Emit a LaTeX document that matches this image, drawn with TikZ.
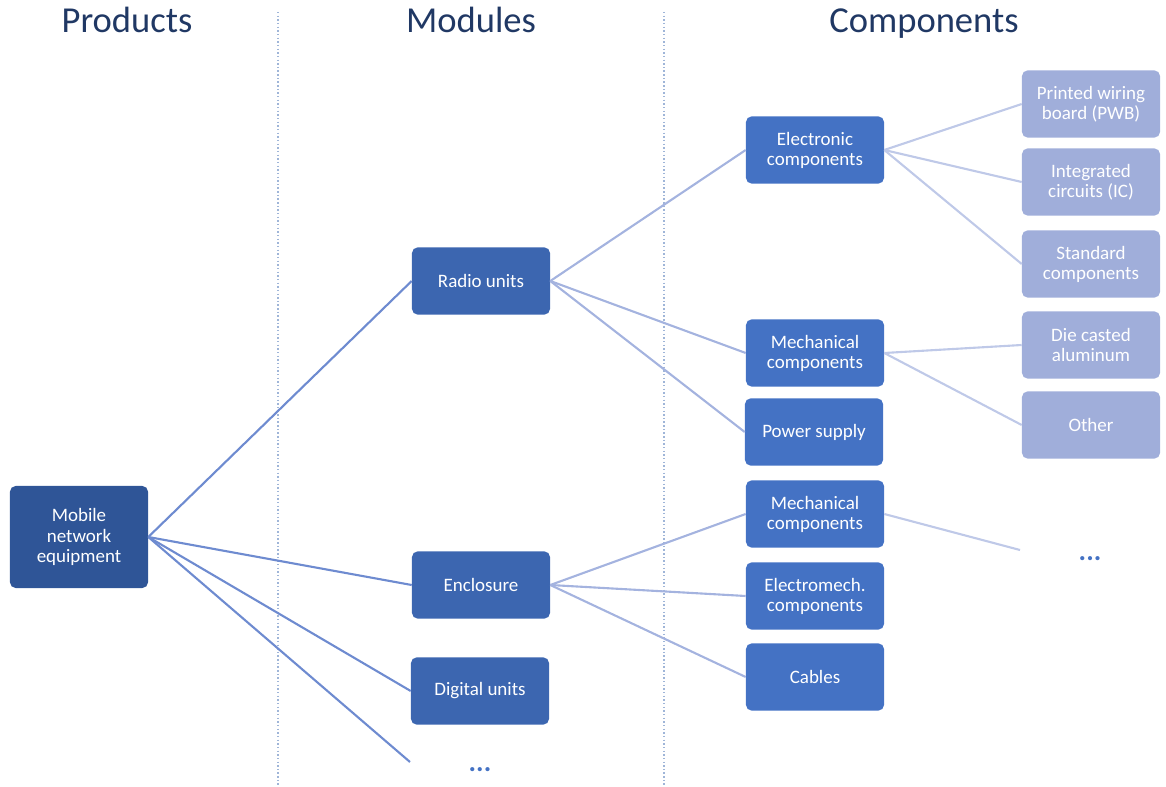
\documentclass[tikz,border=0pt]{standalone}
\usepackage{fontspec}
\setmainfont{Carlito}
\usetikzlibrary{positioning,calc}

\definecolor{headblue}{HTML}{203864}
\definecolor{prodblue}{HTML}{2F5597}
\definecolor{modblue}{HTML}{3C66B0}
\definecolor{compblue}{HTML}{4472C4}
\definecolor{partblue}{HTML}{A0AEDA}
\definecolor{linemid}{HTML}{6E8BD0}
\definecolor{linelight}{HTML}{A4B3DF}
\definecolor{linefaint}{HTML}{BFC9E8}
\definecolor{sepblue}{HTML}{9FB5D8}

\begin{document}
\begin{tikzpicture}[x=0.025cm, y=-0.025cm]
    \tikzstyle{box} = [draw=none, rounded corners=4pt, text=white, align=center,
        minimum width=3.45cm, minimum height=1.68cm, font=\fontsize{13.5}{14.3}\selectfont]
    \tikzstyle{prodbox} = [box, fill=prodblue, minimum height=2.55cm]
    \tikzstyle{modbox} = [box, fill=modblue]
    \tikzstyle{compbox} = [box, fill=compblue]
    \tikzstyle{partbox} = [box, fill=partblue]
    \tikzstyle{header} = [text=headblue, anchor=base, font=\fontsize{26}{30}\selectfont]
    \tikzstyle{more} = [text=compblue, font=\fontsize{20}{22}\selectfont\bfseries]

    \useasboundingbox (0,0) rectangle (1166,787);

    % Column headers
    \node[header] (hprod) at (127,33) {Products};
    \node[header] (hmod) at (471,33) {Modules};
    \node[header] (hcomp) at (924,33) {Components};

    % Separators
    \draw[sepblue, line width=1pt, dash pattern=on 1pt off 1.6pt] (278,12) -- (278,787);
    \draw[sepblue, line width=1pt, dash pattern=on 1pt off 1.6pt] (664,12) -- (664,787);

    % Product
    \node[prodbox] (mobile) at (79,537) {Mobile\\network\\equipment};

    % Modules
    \node[modbox] (radio) at (481,281) {Radio units};
    \node[modbox] (encl) at (481,585) {Enclosure};
    \node[modbox] (digital) at (480,691) {Digital units};
    \node[more] (moremod) at (480,770) {...};
    \coordinate (modend) at (410,762);

    % Components
    \node[compbox] (elec) at (815,150) {Electronic\\components};
    \node[compbox] (mecha) at (815,353) {Mechanical\\components};
    \node[compbox] (power) at (814,432) {Power supply};
    \node[compbox] (mechb) at (815,514) {Mechanical\\components};
    \node[compbox] (emech) at (815,596) {Electromech.\\components};
    \node[compbox] (cables) at (815,677) {Cables};

    % Parts
    \node[partbox] (pwb) at (1091,104) {Printed wiring\\board (PWB)};
    \node[partbox] (ic) at (1091,182) {Integrated\\circuits (IC)};
    \node[partbox] (std) at (1091,264) {Standard\\components};
    \node[partbox] (die) at (1091,345) {Die casted\\aluminum};
    \node[partbox] (other) at (1091,425) {Other};
    \node[more] (morepart) at (1090,559) {...};
    \coordinate (partend) at (1020,550);

    % Links
    \draw[linemid, line width=1.5pt] (mobile.east) -- (radio.west);
    \draw[linemid, line width=1.5pt] (mobile.east) -- (encl.west);
    \draw[linemid, line width=1.5pt] (mobile.east) -- (digital.west);
    \draw[linemid, line width=1.5pt] (mobile.east) -- (modend);

    \draw[linelight, line width=1.5pt] (radio.east) -- (elec.west);
    \draw[linelight, line width=1.5pt] (radio.east) -- (mecha.west);
    \draw[linelight, line width=1.5pt] (radio.east) -- (power.west);
    \draw[linelight, line width=1.5pt] (encl.east) -- (mechb.west);
    \draw[linelight, line width=1.5pt] (encl.east) -- (emech.west);
    \draw[linelight, line width=1.5pt] (encl.east) -- (cables.west);

    \draw[linefaint, line width=1.5pt] (elec.east) -- (pwb.west);
    \draw[linefaint, line width=1.5pt] (elec.east) -- (ic.west);
    \draw[linefaint, line width=1.5pt] (elec.east) -- (std.west);
    \draw[linefaint, line width=1.5pt] (mecha.east) -- (die.west);
    \draw[linefaint, line width=1.5pt] (mecha.east) -- (other.west);
    \draw[linefaint, line width=1.5pt] (mechb.east) -- (partend);
\end{tikzpicture}
\end{document}
